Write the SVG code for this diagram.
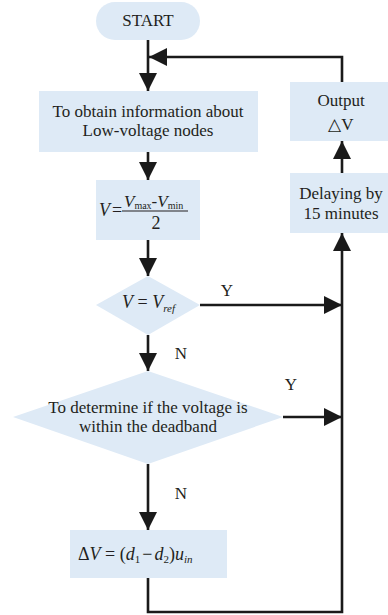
<svg xmlns="http://www.w3.org/2000/svg" width="388" height="615" viewBox="0 0 388 615">
<defs>
<style>
.box{fill:#deeaf6;stroke:none}
.t{font-family:"Liberation Serif","Times New Roman",serif;font-size:17px;fill:#231f20;text-anchor:middle}
.m{font-family:"Liberation Serif","Times New Roman",serif;fill:#231f20}
.i{font-style:italic}
.c{fill:none;stroke:#1a1a1a;stroke-width:2.6}
</style>
<marker id="ah" viewBox="0 0 18 18" refX="18" refY="9" markerWidth="18" markerHeight="18" markerUnits="userSpaceOnUse" orient="auto">
<path d="M0,0 L18,9 L0,18 z" fill="#1a1a1a"/>
</marker>
</defs>
<rect width="388" height="615" fill="#ffffff"/>

<g id="connectors">
<path class="c" d="M148,40 V91" marker-end="url(#ah)"/>
<path class="c" d="M342,82 V57 H149" marker-end="url(#ah)"/>
<path class="c" d="M148,152 V180" marker-end="url(#ah)"/>
<path class="c" d="M148,240 V276" marker-end="url(#ah)"/>
<path class="c" d="M200,305 H342" marker-end="url(#ah)"/>
<path class="c" d="M148,335 V371" marker-end="url(#ah)"/>
<path class="c" d="M283,417 H342" marker-end="url(#ah)"/>
<path class="c" d="M148,464 V530" marker-end="url(#ah)"/>
<path class="c" d="M148,578 V612 H342 V233" marker-end="url(#ah)"/>
<path class="c" d="M342,173 V141" marker-end="url(#ah)"/>
<text class="t" x="227" y="296">Y</text>
<text class="t" x="291" y="390">Y</text>
<text class="t" x="181" y="359">N</text>
<text class="t" x="181" y="499">N</text>
</g>

<g id="start">
<rect class="box" x="96" y="2" width="104" height="38" rx="19"/>
<text class="t" x="148" y="26">START</text>
</g>

<g id="obtain">
<rect class="box" x="39" y="91" width="219" height="61"/>
<text class="t" x="148" y="117">To obtain information about</text>
<text class="t" x="148" y="136">Low-voltage nodes</text>
</g>

<g id="formula">
<rect class="box" x="96" y="180" width="104" height="60"/>
<text class="m i" x="99" y="216" font-size="18">V</text>
<text class="m" x="112" y="216" font-size="18">=</text>
<text class="m" x="124" y="207" font-size="17"><tspan class="i">V</tspan><tspan font-size="10" dy="2">max</tspan><tspan dy="-2">-</tspan><tspan class="i">V</tspan><tspan font-size="10" dy="2">min</tspan></text>
<line x1="122" y1="211" x2="188" y2="211" stroke="#231f20" stroke-width="1"/>
<text class="m" x="156" y="229" font-size="18" text-anchor="middle">2</text>
</g>

<g id="check-ref">
<polygon class="box" points="148,276 200,305 148,335 96,305"/>
<text class="m" x="122" y="308" font-size="18"><tspan class="i">V</tspan> = <tspan class="i">V</tspan><tspan class="i" font-size="11" dy="4">ref</tspan></text>
</g>

<g id="deadband">
<polygon class="box" points="148,371 283,417 148,464 13,417"/>
<text class="t" x="148" y="413">To determine if the voltage is</text>
<text class="t" x="148" y="432">within the deadband</text>
</g>

<g id="delta">
<rect class="box" x="70" y="530" width="157" height="48"/>
<text class="m" x="78" y="560" font-size="18">Δ<tspan class="i">V</tspan> = (<tspan class="i">d</tspan><tspan font-size="11" dy="3">1</tspan><tspan dy="-3" dx="2">−</tspan><tspan class="i" dx="2">d</tspan><tspan font-size="11" dy="3">2</tspan><tspan dy="-3">)</tspan><tspan class="i">u</tspan><tspan class="i" font-size="11" dy="3">in</tspan></text>
</g>

<g id="output">
<rect class="box" x="290" y="82" width="98" height="59"/>
<text class="t" x="341" y="106">Output</text>
<text class="t" x="341" y="130">△V</text>
</g>

<g id="delay">
<rect class="box" x="290" y="173" width="98" height="60"/>
<text class="t" x="341" y="199">Delaying by</text>
<text class="t" x="341" y="219">15 minutes</text>
</g>
</svg>
